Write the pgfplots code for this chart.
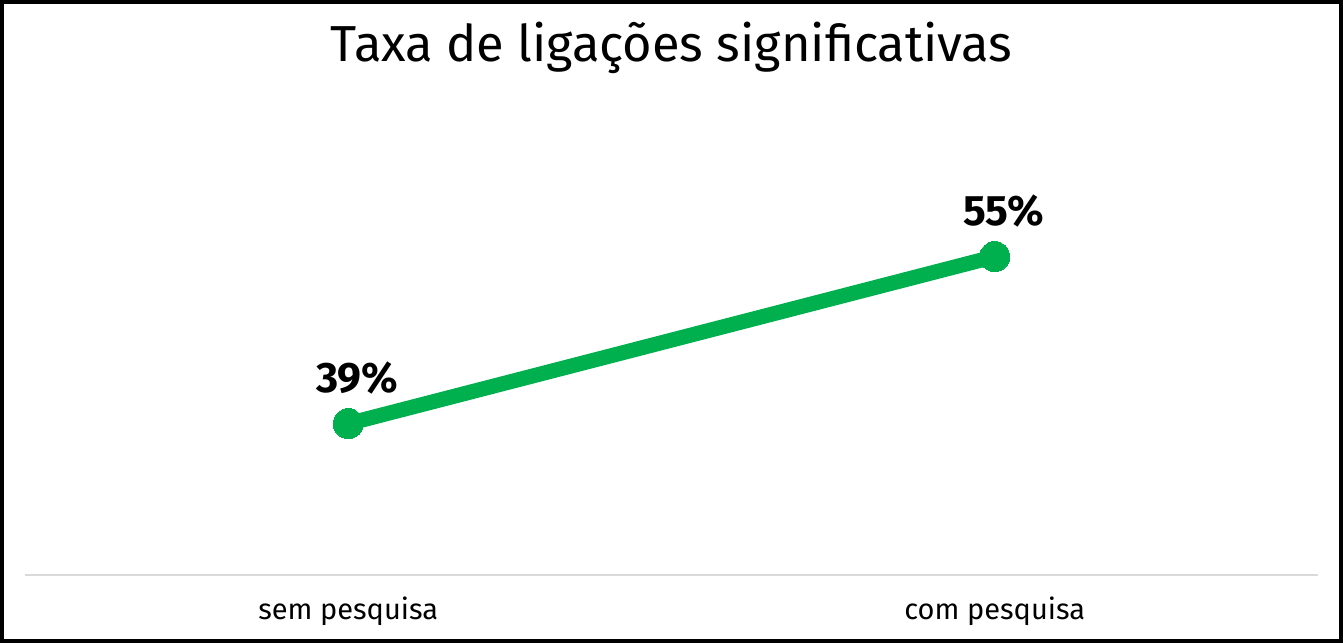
\documentclass[border=0pt]{standalone}
\usepackage{pgfplots}
\pgfplotsset{compat=1.18}
\usepackage{fontspec}
\setmainfont{Fira Sans}
\definecolor{lgreen}{HTML}{00B04F}
\begin{document}
\begin{tikzpicture}
\draw[line width=2pt] (1pt,1pt) rectangle (670.5pt,320.5pt);
\node[font=\fontsize{25.3}{30}\selectfont, anchor=center] at (335.75pt,297.5pt) {Taxa de ligações significativas};
\begin{axis}[
  at={(12.5pt,34pt)}, anchor=south west,
  scale only axis, width=646.5pt, height=237.5pt,
  xmin=-0.5, xmax=1.5, ymin=24.5, ymax=70,
  axis x line=bottom, axis y line=none,
  x axis line style={-, draw=black!15, line width=0.6pt},
  xtick={0,1}, xticklabels={sem pesquisa, com pesquisa},
  major tick length=0pt,
  xticklabel style={font=\fontsize{14.5}{16}\selectfont, anchor=center, yshift=-19pt},
  typeset ticklabels with strut,
  clip=false,
]
\addplot[lgreen, line width=7.5pt, mark=*, mark size=7.5pt, mark options={fill=lgreen, draw=lgreen, line width=0pt},
  point meta=explicit symbolic,
  nodes near coords,
  nodes near coords style={font=\fontsize{21.3}{24}\selectfont\bfseries, text=black, anchor=center, yshift=23pt, xshift=4.5pt}]
coordinates {(0,39) [39\%] (1,55) [55\%]};
\end{axis}
\end{tikzpicture}
\end{document}
